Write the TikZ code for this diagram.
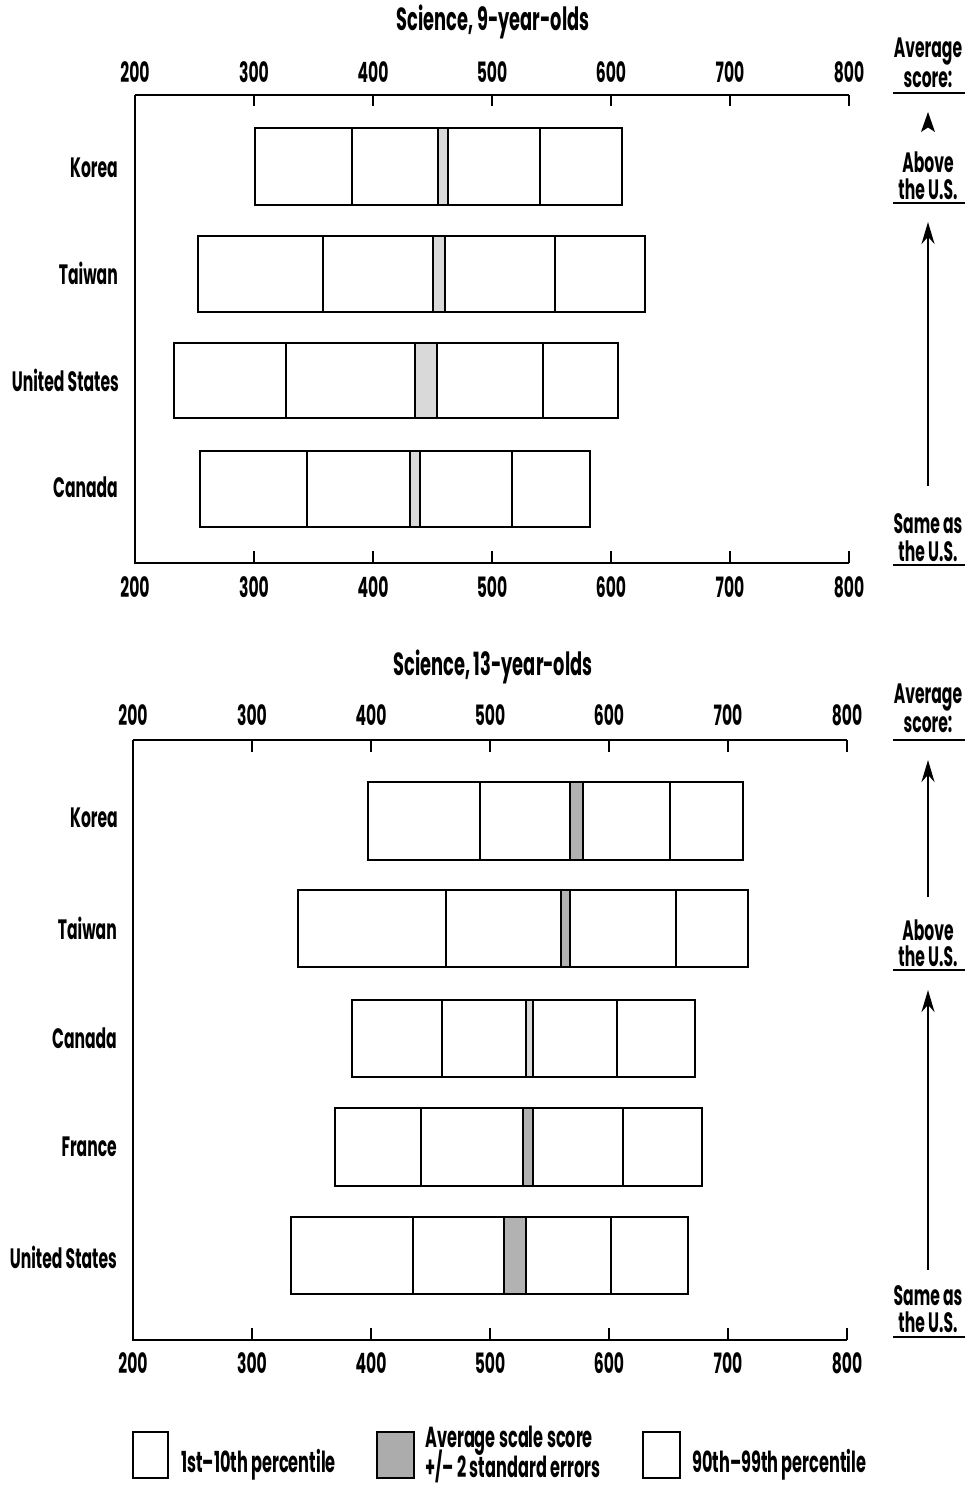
\documentclass[tikz,border=0pt]{standalone}
\usepackage{fontspec}
\setmainfont{Poppins}[FakeStretch=0.556]
\usetikzlibrary{arrows.meta}
\tikzset{
  lab/.style={font=\fontsize{28}{30}\selectfont\bfseries, inner sep=0pt},
  ttl/.style={font=\fontsize{32}{34}\selectfont\bfseries, inner sep=0pt},
  leg/.style={font=\fontsize{29}{31}\selectfont\bfseries, inner sep=0pt},
  bx/.style={line width=2.4pt, line join=miter},
  ax/.style={line width=2.2pt},
  up/.style={line width=2.6pt, -{Stealth[length=22pt,width=13pt]}},
  ul/.style={line width=2pt},
  lg/.style={gray!30},
  dg/.style={gray!60},
}
\newcommand\brow[9]{%
  \fill[#9] (#5,#1) rectangle (#6,#2);
  \draw[bx] (#3,#1) rectangle (#8,#2);
  \draw[bx] (#4,#1)--(#4,#2) (#5,#1)--(#5,#2) (#6,#1)--(#6,#2) (#7,#1)--(#7,#2);
}
\begin{document}
\begin{tikzpicture}[x=1pt,y=-1pt]
\useasboundingbox (0,0) rectangle (971,1485);
\fill[white] (0,0) rectangle (971,1485);

% ================= top chart =================
\node[ttl] (t1) at (493,22) {Science, 9-year-olds};
\foreach \v [count=\i from 0] in {200,300,400,500,600,700,800}{
  \pgfmathsetmacro\xx{135+119*\i}
  \node[lab] (ta\i) at (\xx,72) {\v};
  \node[lab] (tb\i) at (\xx,587) {\v};
}
\draw[ax] (135,95) -- (849,95);
\draw[ax] (135,95) -- (135,563) -- (849,563);
\foreach \i in {1,...,6}{
  \pgfmathsetmacro\xx{135+119*\i}
  \draw[ax] (\xx,95) -- (\xx,106);
  \draw[ax] (\xx,563) -- (\xx,551);
}
\brow{128}{205}{255}{352}{438}{448}{540}{622}{lg}
\brow{236}{312}{198}{323}{433}{445}{555}{645}{lg}
\brow{343}{418}{174}{286}{415}{437}{543}{618}{lg}
\brow{451}{527}{200}{307}{410}{420}{512}{590}{lg}
\node[lab,anchor=east] (k1) at (118,168) {Korea};
\node[lab,anchor=east] (w1) at (118,273) {Taiwan};
\node[lab,anchor=east] (u1) at (119,380) {United States};
\node[lab,anchor=east] (c1) at (118,487) {Canada};

% right annotations
\node[lab] (as1a) at (928,52) {Average};
\node[lab] (as1b) at (928,79) {score:};
\draw[ul] (893,93) -- (965,93);
\coordinate (sb1) at (928,112);
\fill (sb1) -- ++(7,20) -- ++(-7,-4.5) -- ++(-7,4.5) -- cycle;
\node[lab] (ab1a) at (928,162) {Above};
\node[lab] (ab1b) at (928,189) {the U.S.};
\draw[ul] (893,203) -- (965,203);
\coordinate (la1) at (928,486);
\coordinate (lb1) at (928,222);
\draw[up] (la1) -- (lb1);
\node[lab] (sm1a) at (928,524) {Same as};
\node[lab] (sm1b) at (928,551) {the U.S.};
\draw[ul] (893,565) -- (965,565);

% ================= bottom chart =================
\node[ttl] (t2) at (493,667) {Science, 13-year-olds};
\foreach \v [count=\i from 0] in {200,300,400,500,600,700,800}{
  \pgfmathsetmacro\xx{133+119*\i}
  \node[lab] (bta\i) at (\xx,715) {\v};
  \node[lab] (btb\i) at (\xx,1363) {\v};
}
\draw[ax] (133,740) -- (847,740);
\draw[ax] (133,740) -- (133,1340) -- (847,1340);
\foreach \i in {1,...,6}{
  \pgfmathsetmacro\xx{133+119*\i}
  \draw[ax] (\xx,740) -- (\xx,752);
  \draw[ax] (\xx,1340) -- (\xx,1328);
}
\brow{782}{860}{368}{480}{570}{583}{670}{743}{dg}
\brow{890}{967}{298}{446}{561}{570}{676}{748}{dg}
\brow{1000}{1077}{352}{442}{526}{533}{617}{695}{lg}
\brow{1108}{1186}{335}{421}{523}{533}{623}{702}{dg}
\brow{1217}{1294}{291}{413}{504}{526}{611}{688}{dg}
\node[lab,anchor=east] (k2) at (118,818) {Korea};
\node[lab,anchor=east] (w2) at (117,928) {Taiwan};
\node[lab,anchor=east] (c2) at (117,1038) {Canada};
\node[lab,anchor=east] (f2) at (117,1147) {France};
\node[lab,anchor=east] (u2) at (117,1257) {United States};

\node[lab] (as2a) at (928,698) {Average};
\node[lab] (as2b) at (928,724) {score:};
\draw[ul] (893,740) -- (965,740);
\coordinate (sa2) at (928,897);
\coordinate (sb2) at (928,760);
\draw[up] (sa2) -- (sb2);
\node[lab] (ab2a) at (928,930) {Above};
\node[lab] (ab2b) at (928,956) {the U.S.};
\draw[ul] (893,970) -- (965,970);
\coordinate (la2) at (928,1270);
\coordinate (lb2) at (928,990);
\draw[up] (la2) -- (lb2);
\node[lab] (sm2a) at (928,1296) {Same as};
\node[lab] (sm2b) at (928,1322) {the U.S.};
\draw[ul] (893,1337) -- (965,1337);

% ================= legend =================
\draw[bx] (133,1432) rectangle (168,1478);
\node[leg,anchor=west] (lg1) at (181,1465) {1st–10th percentile};
\fill[gray!65] (377,1432) rectangle (414,1478);
\draw[bx] (377,1432) rectangle (414,1478);
\node[leg,anchor=west] (lg2a) at (425,1441) {Average scale score};
\node[leg,anchor=west] (lg2b) at (425,1466) {+/– 2 standard errors};
\draw[bx] (643,1432) rectangle (680,1478);
\node[leg,anchor=west] (lg3) at (692,1465) {90th–99th percentile};
\end{tikzpicture}
\end{document}
